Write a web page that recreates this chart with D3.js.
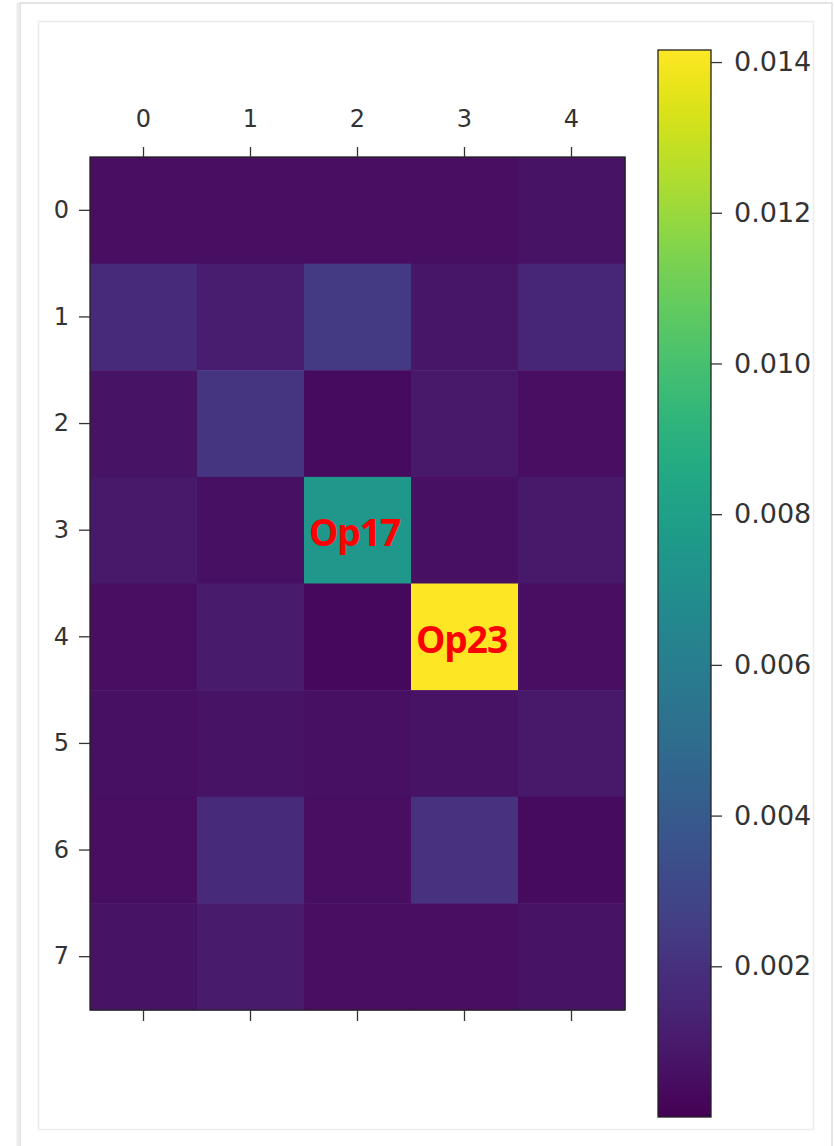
<!DOCTYPE html>
<html>
<head>
<meta charset="utf-8">
<script src="https://cdn.jsdelivr.net/npm/d3@7"></script>
<style>
  body { margin: 0; background: #fff; }
  .tick text { font-family: "DejaVu Sans", sans-serif; fill: #333; }
  .tick line { stroke: #333; stroke-width: 1.3; }
</style>
</head>
<body>
<div id="chart-area"></div>
<script>
// data
var rowLabels = ["0", "1", "2", "3", "4", "5", "6", "7"];
var colLabels = ["0", "1", "2", "3", "4"];
var row0 = [0.0005, 0.0005, 0.0005, 0.0005, 0.0007];
var row1 = [0.0017, 0.0011, 0.0024, 0.0008, 0.0015];
var row2 = [0.0007, 0.0022, 0.0004, 0.0009, 0.0005];
var row3 = [0.0009, 0.0006, 0.0075, 0.0006, 0.0009];
var row4 = [0.0005, 0.0010, 0.0003, 0.01416, 0.0005];
var row5 = [0.0006, 0.0007, 0.0006, 0.0007, 0.0009];
var row6 = [0.0005, 0.0017, 0.0005, 0.0020, 0.0004];
var row7 = [0.0007, 0.0010, 0.0005, 0.0005, 0.0007];
var colorTicks = [0.002, 0.004, 0.006, 0.008, 0.010, 0.012, 0.014];
var colorDomain = [0, 0.01416];
var notes = [ { row: 3, col: 2, text: "Op17" }, { row: 4, col: 3, text: "Op23" } ];

document.addEventListener("DOMContentLoaded", function () {

  var rows = [row0, row1, row2, row3, row4, row5, row6, row7];
  var cells = [];
  rows.forEach(function (r, i) {
    r.forEach(function (v, j) {
      cells.push({ row: rowLabels[i], col: colLabels[j], value: v });
    });
  });

  var W = 834, H = 1146;
  var svg = d3.select("#chart-area").append("svg")
      .attr("width", W).attr("height", H);

  // card frames
  svg.append("rect").attr("x", 20).attr("y", 3).attr("width", 812).attr("height", H + 10)
      .attr("fill", "#fff").attr("stroke", "#dcdcdc").attr("stroke-width", 1.5);
  svg.append("line").attr("x1", 18).attr("x2", 18).attr("y1", 3).attr("y2", H)
      .attr("stroke", "#ececec").attr("stroke-width", 3);
  svg.append("rect").attr("x", 38.5).attr("y", 21.5).attr("width", 775).attr("height", 1108)
      .attr("fill", "#fff").attr("stroke", "#ececec").attr("stroke-width", 1.5);

  var pLeft = 90, pRight = 625, pTop = 157, pBottom = 1010;

  var x = d3.scaleBand().domain(colLabels).range([pLeft, pRight]).padding(0);
  var y = d3.scaleBand().domain(rowLabels).range([pTop, pBottom]).padding(0);
  var color = d3.scaleSequential(d3.interpolateViridis).domain(colorDomain);

  svg.append("g").selectAll("rect")
      .data(cells)
      .enter()
      .append("rect")
      .attr("x", d => x(d.col))
      .attr("y", d => y(d.row))
      .attr("width", x.bandwidth() + 0.5)
      .attr("height", y.bandwidth() + 0.5)
      .attr("fill", d => color(d.value));

  svg.append("rect")
      .attr("x", pLeft).attr("y", pTop)
      .attr("width", pRight - pLeft).attr("height", pBottom - pTop)
      .attr("fill", "none").attr("stroke", "#222").attr("stroke-width", 1.3);

  // axes
  var xTop = d3.axisTop(x).tickSize(10).tickPadding(20);
  var xBottom = d3.axisBottom(x).tickSize(11).tickFormat("");
  var yLeft = d3.axisLeft(y).tickSize(11).tickPadding(10);

  svg.append("g").attr("class", "x-axis")
      .attr("transform", "translate(0," + pTop + ")")
      .call(xTop)
      .call(g => g.select(".domain").remove())
      .selectAll("text").attr("font-size", 24);

  svg.append("g").attr("class", "x-axis-bottom")
      .attr("transform", "translate(0," + pBottom + ")")
      .call(xBottom)
      .call(g => g.select(".domain").remove());

  svg.append("g").attr("class", "y-axis")
      .attr("transform", "translate(" + pLeft + ",0)")
      .call(yLeft)
      .call(g => g.select(".domain").remove())
      .selectAll("text").attr("font-size", 24);

  // annotations
  svg.append("g").selectAll("text")
      .data(notes)
      .enter()
      .append("text")
      .attr("x", d => x(colLabels[d.col]) + x.bandwidth() / 2 - 3)
      .attr("y", d => y(rowLabels[d.row]) + y.bandwidth() / 2 + 16)
      .attr("text-anchor", "middle")
      .attr("font-family", "'Open Sans', sans-serif")
      .attr("font-weight", 700)
      .attr("font-size", 37)
      .attr("letter-spacing", -1)
      .attr("fill", "#ff0000")
      .text(d => d.text);

  // colorbar
  var cbLeft = 658, cbRight = 711, cbTop = 50, cbBottom = 1117;
  var cy = d3.scaleLinear().domain(colorDomain).range([cbBottom, cbTop]);

  var grad = svg.append("defs").append("linearGradient")
      .attr("id", "viridis")
      .attr("x1", "0").attr("y1", "1").attr("x2", "0").attr("y2", "0");
  d3.range(0, 1.0001, 0.02).forEach(function (t) {
    grad.append("stop")
        .attr("offset", t)
        .attr("stop-color", d3.interpolateViridis(t));
  });

  svg.append("rect")
      .attr("x", cbLeft).attr("y", cbTop)
      .attr("width", cbRight - cbLeft).attr("height", cbBottom - cbTop)
      .attr("fill", "url(#viridis)")
      .attr("stroke", "#222").attr("stroke-width", 1.3);

  svg.append("g").attr("class", "cb-axis")
      .attr("transform", "translate(" + cbRight + ",0)")
      .call(d3.axisRight(cy).tickValues(colorTicks).tickFormat(d3.format(".3f")).tickSize(11).tickPadding(12))
      .call(g => g.select(".domain").remove())
      .selectAll("text").attr("font-size", 27);
});
</script>
</body>
</html>
